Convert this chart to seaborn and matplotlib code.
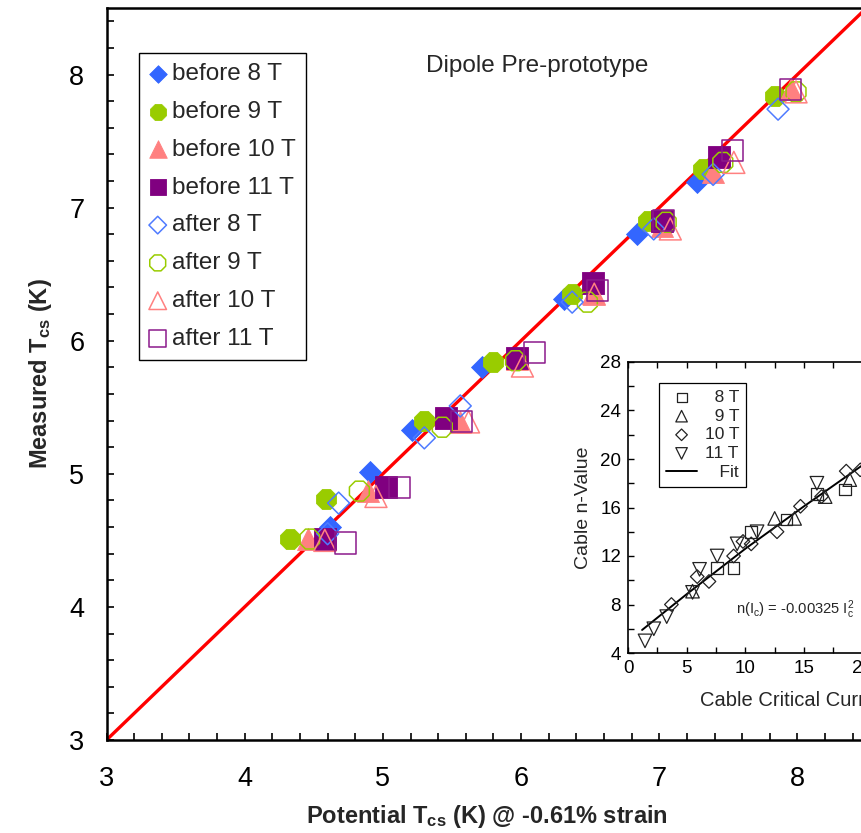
import numpy as np
import pandas as pd
import matplotlib
matplotlib.use("Agg")
import matplotlib.pyplot as plt
import seaborn as sns
from matplotlib.ticker import MultipleLocator

# ---------------- main chart data ----------------
before8_x = [4.62, 4.91, 5.21, 5.72, 6.31, 6.84, 7.27]
before8_y = [4.60, 5.01, 5.33, 5.80, 6.31, 6.80, 7.19]
before9_x = [4.33, 4.59, 5.30, 5.80, 6.37, 6.92, 7.32, 7.84]
before9_y = [4.51, 4.81, 5.40, 5.84, 6.35, 6.90, 7.29, 7.84]
before10_x = [4.46, 4.89, 5.56, 5.97, 6.52, 7.02, 7.39, 7.95]
before10_y = [4.51, 4.87, 5.39, 5.86, 6.36, 6.86, 7.27, 7.89]
before11_x = [4.58, 5.02, 5.46, 5.97, 6.52, 7.02, 7.43]
before11_y = [4.51, 4.90, 5.42, 5.87, 6.43, 6.90, 7.38]
after8_x = [4.60, 4.68, 5.30, 5.56, 6.37, 6.96, 7.39, 7.86]
after8_y = [4.55, 4.78, 5.27, 5.51, 6.29, 6.84, 7.25, 7.74]
after9_x = [4.47, 4.83, 5.43, 5.96, 6.48, 7.05, 7.46, 7.99]
after9_y = [4.51, 4.87, 5.35, 5.85, 6.29, 6.89, 7.34, 7.87]
after10_x = [4.58, 4.95, 5.62, 6.01, 6.53, 7.08, 7.54, 7.99]
after10_y = [4.50, 4.83, 5.39, 5.81, 6.35, 6.84, 7.34, 7.87]
after11_x = [4.73, 5.12, 5.57, 6.10, 6.55, 7.03, 7.53, 7.95]
after11_y = [4.48, 4.90, 5.39, 5.91, 6.38, 6.90, 7.43, 7.89]

line_x = [3.0, 8.5]
line_y = [3.0, 8.5]

main_labels = ["before 8 T", "before 9 T", "before 10 T", "before 11 T",
               "after 8 T", "after 9 T", "after 10 T", "after 11 T"]
main_xticks = [3, 4, 5, 6, 7, 8]
main_yticks = [3, 4, 5, 6, 7, 8]

# ---------------- inset data ----------------
n8_x = [7.6, 9.0, 10.5, 13.5, 16.1, 18.5]
n8_y = [11.0, 11.0, 14.0, 15.0, 17.1, 17.5]
n9_x = [5.5, 12.5, 14.2, 16.8, 18.9]
n9_y = [9.1, 15.1, 15.1, 16.9, 18.3]
n10_x = [3.7, 5.9, 6.9, 9.0, 9.8, 10.5, 12.7, 14.7, 16.5, 18.6, 19.8]
n10_y = [8.0, 10.3, 9.9, 12.0, 13.2, 13.0, 14.0, 16.1, 16.9, 19.0, 19.1]
n11_x = [1.45, 2.2, 3.3, 5.5, 6.1, 7.6, 9.3, 11.0, 16.1]
n11_y = [5.0, 6.0, 7.0, 9.0, 10.9, 12.0, 13.0, 14.0, 18.0]
fit_x = [1.2, 5.0, 10.0, 15.0, 20.0, 22.0]
fit_y = [5.9, 8.85, 12.6, 16.1, 19.5, 20.8]
inset_labels = ["\u20078 T", "\u20079 T", "10 T", "11 T", "\u2007 Fit"]
inset_xticks = [0, 5, 10, 15, 20, 25, 30]
inset_yticks = [4, 8, 12, 16, 20, 24, 28]

# ---------------- style ----------------
sns.set_style("ticks")
plt.rcParams["font.family"] = ["Liberation Sans", "DejaVu Sans"]
plt.rcParams["mathtext.fontset"] = "custom"
plt.rcParams["mathtext.rm"] = "Liberation Sans"
plt.rcParams["mathtext.bf"] = "Liberation Sans:bold"
plt.rcParams["mathtext.it"] = "Liberation Sans:italic"

W, H = 861, 833
fig = plt.figure(figsize=(W / 100, H / 100), dpi=100)
fig.patch.set_facecolor("white")

ax = fig.add_axes([106.5 / W, (H - 740) / H, 760 / W, 732 / H])
ax.set_xlim(3, 8.5)
ax.set_ylim(3, 8.5)

sns.lineplot(x=line_x, y=line_y, ax=ax, color="#ff0000", linewidth=2.4, zorder=2)

BLUE, GREEN, PINK, PURPLE = "#3366ff", "#99cc00", "#ff8080", "#800080"
series = [
    (main_labels[0], before8_x, before8_y, "D", BLUE, True, 125),
    (main_labels[1], before9_x, before9_y, "8", GREEN, True, 240),
    (main_labels[2], before10_x, before10_y, "^", PINK, True, 250),
    (main_labels[3], before11_x, before11_y, "s", PURPLE, True, 230),
    (main_labels[4], after8_x, after8_y, "D", "#4f7bff", False, 125),
    (main_labels[5], after9_x, after9_y, "8", GREEN, False, 240),
    (main_labels[6], after10_x, after10_y, "^", PINK, False, 250),
    (main_labels[7], after11_x, after11_y, "s", "#8b1a8b", False, 230),
]
for lab, xs, ys, mk, col, filled, s in series:
    df = pd.DataFrame({"x": xs, "y": ys})
    if filled:
        sns.scatterplot(data=df, x="x", y="y", ax=ax, marker=mk, s=s,
                        color=col, edgecolor=col, linewidth=0.6,
                        label=lab, zorder=3, legend=False)
    else:
        sns.scatterplot(data=df, x="x", y="y", ax=ax, marker=mk, s=s,
                        facecolor="none", edgecolor=col, linewidth=1.1,
                        label=lab, zorder=4, legend=False)

ax.set_xticks(main_xticks)
ax.set_yticks(main_yticks)
ax.xaxis.set_minor_locator(MultipleLocator(0.2))
ax.yaxis.set_minor_locator(MultipleLocator(0.2))
ax.tick_params(which="both", direction="in", length=5, width=1.2, colors="black",
               top=False, right=False)
ax.tick_params(axis="x", which="major", pad=19, labelsize=19.5)
ax.tick_params(axis="y", which="major", pad=16, labelsize=19.5)
for sp in ["left", "bottom", "top"]:
    ax.spines[sp].set_color("black")
    ax.spines[sp].set_linewidth(1.8)
ax.spines["right"].set_visible(False)

ax.set_xlabel(r"Potential T$_\mathbf{cs}$ (K) @ -0.61% strain", fontsize=17,
              fontweight="bold", labelpad=8)
ax.set_ylabel(r"Measured T$_\mathbf{cs}$ (K)", fontsize=17, fontweight="bold",
              labelpad=11)

ax.text(537 / W, 1 - 66 / H, "Dipole Pre-prototype", transform=fig.transFigure,
        ha="center", va="center", fontsize=17.5)

h, l = ax.get_legend_handles_labels()
keep = [(hh, ll) for hh, ll in zip(h, l) if ll in main_labels]
leg = ax.legend([k[0] for k in keep], [k[1] for k in keep], loc="upper left",
                bbox_to_anchor=(139 / W, 1 - 53 / H), bbox_transform=fig.transFigure,
                borderaxespad=0, fontsize=17.5, labelspacing=0.65,
                handlelength=0.7, handletextpad=0.25, borderpad=0.42,
                markerscale=0.8, frameon=True, fancybox=False, framealpha=1)
leg.get_frame().set_edgecolor("black")
leg.get_frame().set_linewidth(1.0)

# ---------------- inset ----------------
ia = fig.add_axes([628 / W, (H - 653) / H, 352 / W, 291 / H])
ia.set_facecolor("white")
ia.set_xlim(0, 30)
ia.set_ylim(4, 28)
ink = "#222222"
inset_series = [
    (inset_labels[0], n8_x, n8_y, "s", 70),
    (inset_labels[1], n9_x, n9_y, "^", 95),
    (inset_labels[2], n10_x, n10_y, "D", 48),
    (inset_labels[3], n11_x, n11_y, "v", 95),
]
for lab, xs, ys, mk, s in inset_series:
    sns.scatterplot(x=xs, y=ys, ax=ia, marker=mk, s=s, facecolor="none",
                    edgecolor=ink, linewidth=0.9, label=lab, legend=False, zorder=3)
sns.lineplot(x=fit_x, y=fit_y, ax=ia, color="black", linewidth=1.4,
             label=inset_labels[4], legend=False, zorder=2)
ia.set_xticks(inset_xticks)
ia.set_yticks(inset_yticks)
ia.xaxis.set_minor_locator(MultipleLocator(2.5))
ia.yaxis.set_minor_locator(MultipleLocator(2))
ia.tick_params(which="both", direction="in", top=True, right=True, length=4,
               width=1, colors="black", labelsize=13.5)
ia.tick_params(which="major", pad=5)
for sp in ia.spines.values():
    sp.set_color("black")
    sp.set_linewidth(1.2)
ia.set_xlabel("Cable Critical Current (kA)", fontsize=14.5, labelpad=8)
ia.xaxis.set_label_coords((818 - 628) / 352, -0.13)
ia.set_ylabel("Cable n-Value", fontsize=14, labelpad=6)
ia.text(736 / W, 1 - 610 / H, r"n(I$_\mathrm{c}$) = -0.00325 I$_\mathrm{c}^\mathrm{2}$",
        transform=fig.transFigure, ha="left", va="center", fontsize=10.6)
ih, il = ia.get_legend_handles_labels()
ileg = ia.legend(ih, il, loc="upper left", bbox_to_anchor=(659 / W, 1 - 383 / H),
                 bbox_transform=fig.transFigure, borderaxespad=0, fontsize=12.5,
                 labelspacing=0.2, handlelength=1.8, handletextpad=0.45,
                 borderpad=0.4, markerscale=0.85, frameon=True, fancybox=False,
                 framealpha=1)
ileg.get_frame().set_edgecolor("black")
ileg.get_frame().set_linewidth(0.9)

fig.savefig("out.png", dpi=100, facecolor="white")
